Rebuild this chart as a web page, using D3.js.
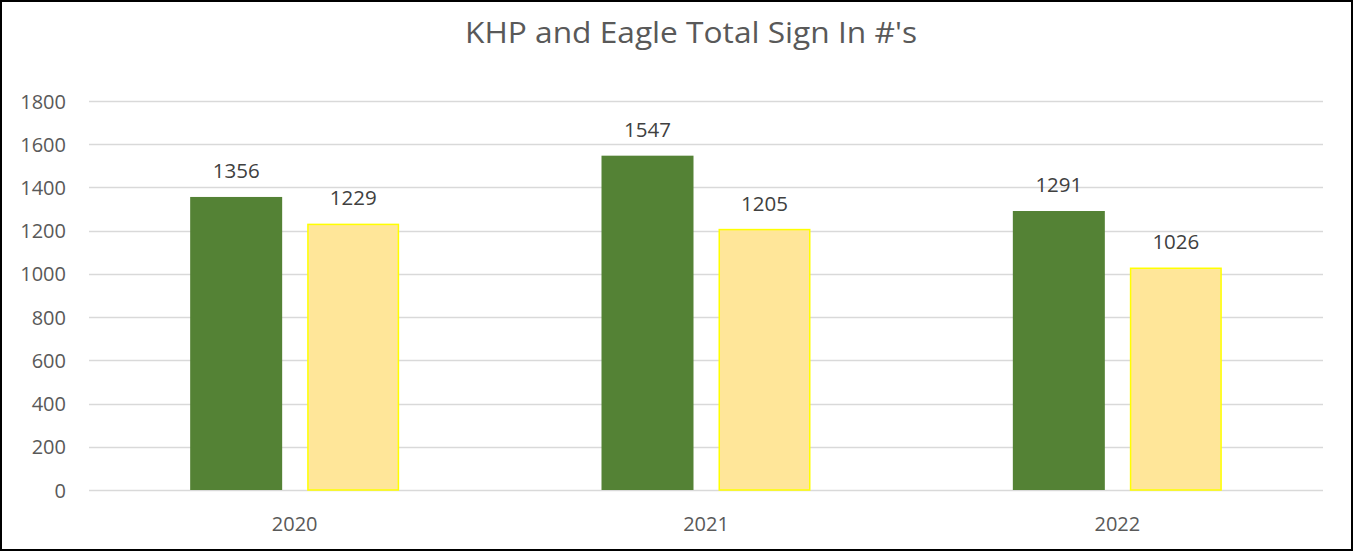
<!DOCTYPE html>
<html>
<head>
<meta charset="utf-8">
<script src="https://cdn.jsdelivr.net/npm/d3@7"></script>
<style>
  html, body { margin: 0; padding: 0; background: #fff; }
  svg { display: block; font-family: "Open Sans", "Noto Sans", sans-serif; }
</style>
</head>
<body>
<svg id="chart" width="1353" height="551"></svg>
<script>
// chart data
var years = ["2020", "2021", "2022"];
var seriesNames = ["KHP", "Eagle"];
var khpValues = [1356, 1547, 1291];
var eagleValues = [1229, 1205, 1026];
var yTicks = [0, 200, 400, 600, 800, 1000, 1200, 1400, 1600, 1800];
var titleText = "KHP and Eagle Total Sign In #'s";

var width = 1353, height = 551;
var margin = { left: 89, right: 30, top: 101, bottom: 61 };

var svg = d3.select("#chart");

// outer frame
svg.append("rect")
  .attr("x", 1).attr("y", 1)
  .attr("width", width - 2).attr("height", height - 2)
  .attr("fill", "#fff")
  .attr("stroke", "#000")
  .attr("stroke-width", 2);

svg.append("text")
  .attr("x", 691).attr("y", 43)
  .attr("text-anchor", "middle")
  .attr("fill", "#595959")
  .style("font-size", "29px")
  .attr("textLength", 452)
  .attr("lengthAdjust", "spacingAndGlyphs")
  .text(titleText);

var y = d3.scaleLinear()
  .domain([0, 1800])
  .range([height - margin.bottom - 0, margin.top]);

var x0 = d3.scaleBand()
  .domain(years)
  .range([margin.left, width - margin.right]);

var x1 = d3.scaleBand()
  .domain(seriesNames)
  .range([-104.5, 104.5])
  .paddingInner(0.2137);

var colors = { KHP: "#548235", Eagle: "#FFE699" };
var strokes = { KHP: "none", Eagle: "#FFFF00" };

// gridlines
svg.append("g")
  .selectAll("line")
  .data(yTicks)
  .join("line")
    .attr("x1", margin.left)
    .attr("x2", width - margin.right)
    .attr("y1", d => Math.round(y(d)) + 0.5)
    .attr("y2", d => Math.round(y(d)) + 0.5)
    .attr("stroke", "#d9d9d9")
    .attr("stroke-width", 1.5);

// y labels
svg.append("g")
  .selectAll("text")
  .data(yTicks)
  .join("text")
    .attr("x", 66)
    .attr("y", d => y(d) + 7.5)
    .attr("text-anchor", "end")
    .attr("fill", "#595959")
    .style("font-size", "20px")
    .text(d => d);

// x labels
svg.append("g")
  .selectAll("text")
  .data(years)
  .join("text")
    .attr("x", d => x0(d) + x0.bandwidth() / 2)
    .attr("y", 531)
    .attr("text-anchor", "middle")
    .attr("fill", "#595959")
    .style("font-size", "20px")
    .text(d => d);

var rows = years.map(function(yr, i) {
  return [
    { year: yr, series: "KHP", value: khpValues[i] },
    { year: yr, series: "Eagle", value: eagleValues[i] }
  ];
}).flat();

var bars = svg.append("g")
  .selectAll("g")
  .data(rows)
  .join("g")
    .attr("transform", d => `translate(${x0(d.year) + x0.bandwidth() / 2 + x1(d.series)},0)`);

bars.append("rect")
  .attr("x", d => d.series === "Eagle" ? 0.75 : 0)
  .attr("y", d => y(d.value))
  .attr("width", d => x1.bandwidth() - (d.series === "Eagle" ? 1.5 : 0))
  .attr("height", d => y(0) - y(d.value))
  .attr("fill", d => colors[d.series])
  .attr("stroke", d => strokes[d.series])
  .attr("stroke-width", 1.5);

bars.append("text")
  .attr("x", x1.bandwidth() / 2)
  .attr("y", d => y(d.value) - 19)
  .attr("text-anchor", "middle")
  .attr("fill", "#404040")
  .style("font-size", "20.5px")
  .text(d => d.value);
</script>
</body>
</html>
